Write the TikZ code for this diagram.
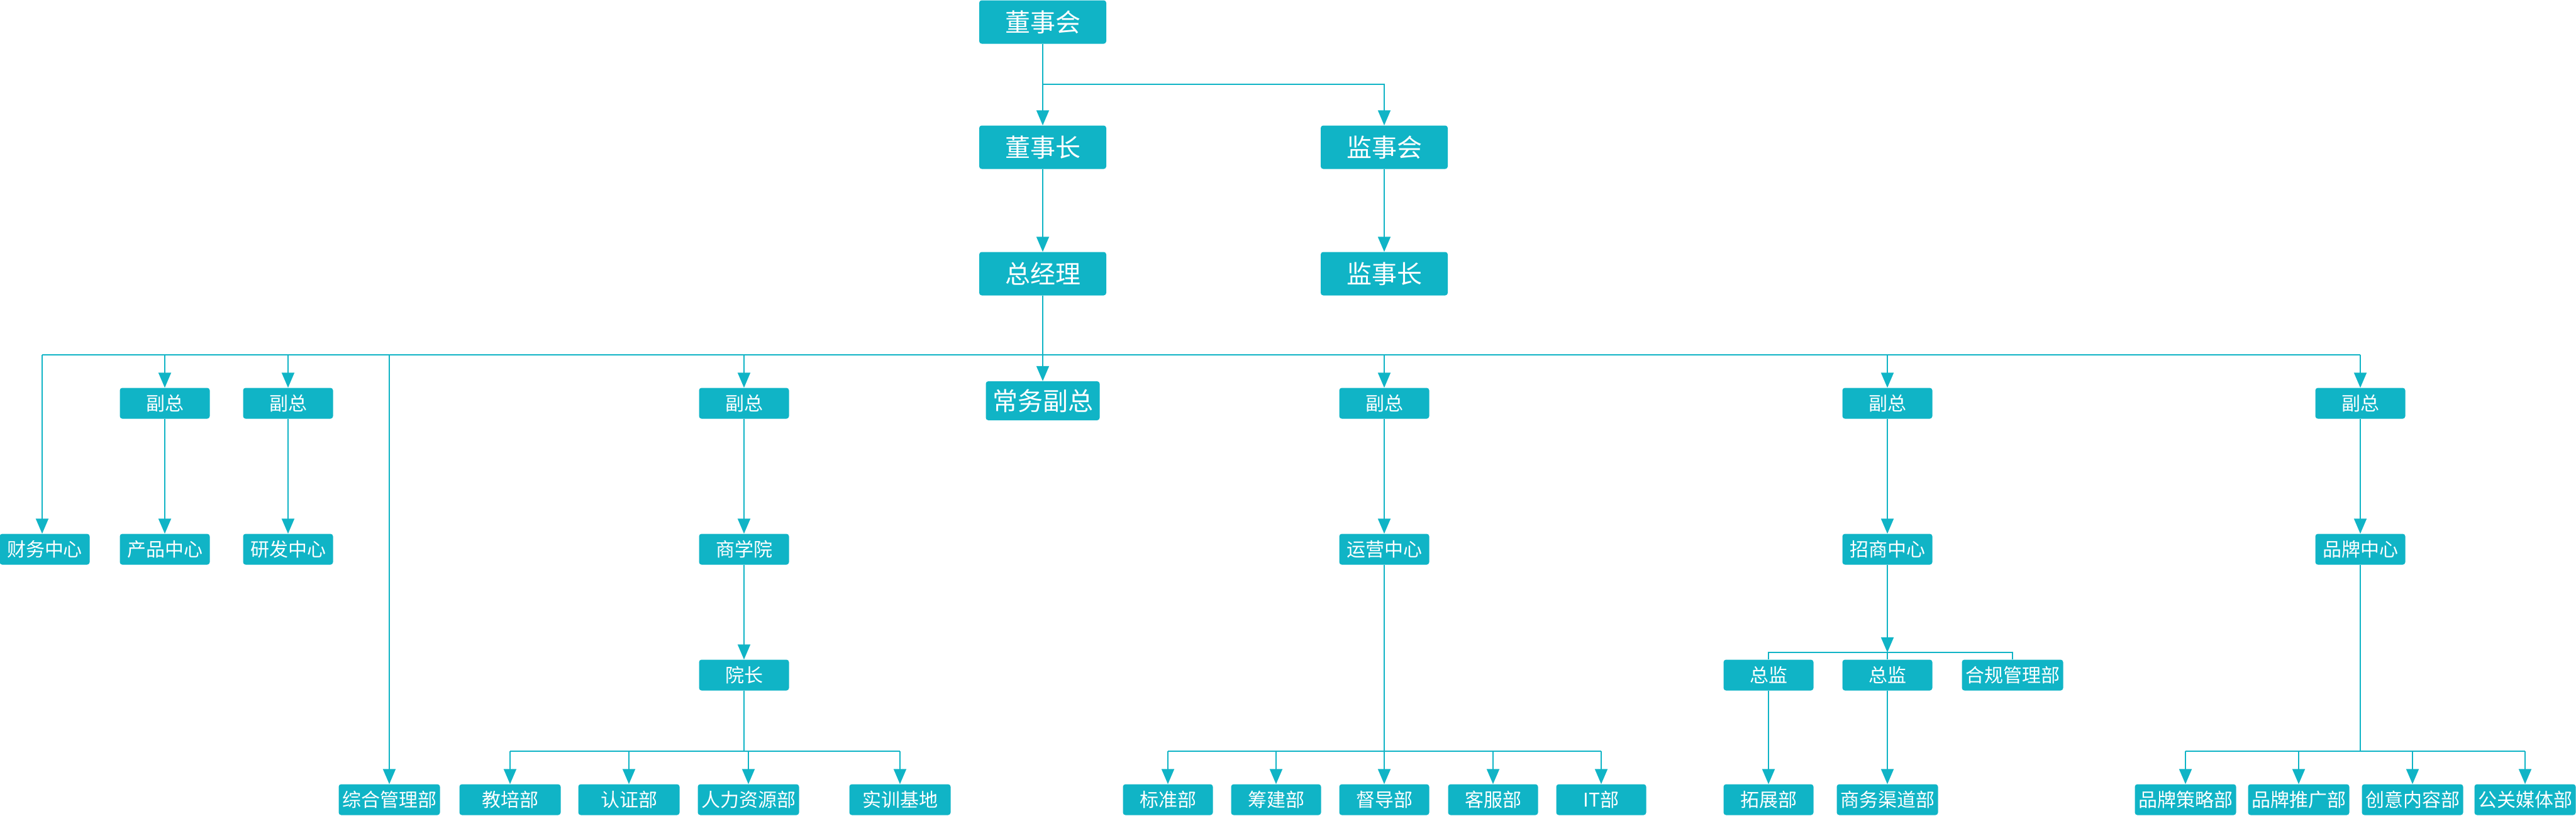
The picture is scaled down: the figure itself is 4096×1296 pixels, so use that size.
\documentclass[tikz,border=0pt]{standalone}
\usepackage{fontspec}
\setmainfont{Noto Sans CJK SC}
\usetikzlibrary{arrows.meta}
\definecolor{tl}{HTML}{10B4C6}
\tikzset{
 bx/.style={fill=tl,rounded corners=4pt,text=white,inner sep=0pt,font=\fontsize{30}{30}\selectfont,minimum height=49pt,minimum width=143pt},
 wide/.style={minimum width=161pt},
 big/.style={bx,minimum width=202pt,minimum height=69pt,font=\fontsize{40}{40}\selectfont},
 ln/.style={draw=tl,line width=2pt},
 ar/.style={ln,-{Triangle[length=24pt,width=20pt]}}
}
\begin{document}
\begin{tikzpicture}[x=1pt,y=-1pt]
\useasboundingbox (0,0) rectangle (4096,1296);
\node[big] (dsh) at (1658,35) {董事会};
\node[big] (dsz) at (1658,234) {董事长};
\node[big] (jsh) at (2201,234) {监事会};
\node[big] (zjl) at (1658,435) {总经理};
\node[big] (jsz) at (2201,435) {监事长};
\node[big,minimum width=181pt,minimum height=62pt] (cw) at (1658,637) {常务副总};
\coordinate (j1) at (1658,134);
\draw[ar] (dsh) -- (dsz);
\draw[ar] (j1) -| (jsh);
\draw[ar] (dsz) -- (zjl);
\draw[ar] (jsh) -- (jsz);
% row 2
\node[bx] (f1) at (262,641) {副总};
\node[bx] (f2) at (458,641) {副总};
\node[bx] (f3) at (1183,641) {副总};
\node[bx] (f4) at (2201,641) {副总};
\node[bx] (f5) at (3001,641) {副总};
\node[bx] (f6) at (3753,641) {副总};
% row 3
\node[bx] (cwzx) at (71,873) {财务中心};
\node[bx] (cpzx) at (262,873) {产品中心};
\node[bx] (yfzx) at (458,873) {研发中心};
\node[bx] (sxy) at (1183,873) {商学院};
\node[bx] (yyzx) at (2201,873) {运营中心};
\node[bx] (zszx) at (3001,873) {招商中心};
\node[bx] (ppzx) at (3753,873) {品牌中心};
% row 4
\node[bx] (yz) at (1183,1073) {院长};
\node[bx] (zj1) at (2812,1073) {总监};
\node[bx] (zj2) at (3001,1073) {总监};
\node[bx,wide] (hg) at (3200,1073) {合规管理部};
% row 5
\node[bx,wide] (zh) at (619,1271) {综合管理部};
\node[bx,wide] (jp) at (811,1271) {教培部};
\node[bx,wide] (rz) at (1000,1271) {认证部};
\node[bx,wide] (rl) at (1190,1271) {人力资源部};
\node[bx,wide] (sx) at (1431,1271) {实训基地};
\node[bx] (bz) at (1857,1271) {标准部};
\node[bx] (cj) at (2029,1271) {筹建部};
\node[bx] (dd) at (2201,1271) {督导部};
\node[bx] (kf) at (2374,1271) {客服部};
\node[bx] (it) at (2546,1271) {IT部};
\node[bx] (tz) at (2812,1271) {拓展部};
\node[bx,wide] (swqd) at (3001,1271) {商务渠道部};
\node[bx,wide] (ppcl) at (3475,1271) {品牌策略部};
\node[bx,wide] (pptg) at (3655,1271) {品牌推广部};
\node[bx,wide] (cynr) at (3836,1271) {创意内容部};
\node[bx,wide] (gmt) at (4015,1271) {公关媒体部};
% main bus
\coordinate (bl) at (67,564);
\coordinate (br) at (3753,564);
\draw[ln] (bl) -- (br);
\draw[ar] (zjl) -- (cw);
\draw[ar] (bl) -- (bl|-cwzx.north);
\foreach \n in {f1,f2,f3,f4,f5,f6,zh}{\draw[ar] (\n|-bl) -- (\n.north);}
\draw[ar] (f1) -- (cpzx);
\draw[ar] (f2) -- (yfzx);
\draw[ar] (f3) -- (sxy);
\draw[ar] (sxy) -- (yz);
\draw[ar] (f4) -- (yyzx);
\draw[ar] (f5) -- (zszx);
\draw[ar] (f6) -- (ppzx);
% 院长 bus
\coordinate (b2) at (1183,1194);
\draw[ln] (yz) -- (b2);
\draw[ln] (jp.north|-b2) -- (sx.north|-b2);
\foreach \n in {jp,rz,rl,sx}{\draw[ar] (\n|-b2) -- (\n.north);}
% 运营 bus
\coordinate (b3) at (2201,1194);
\draw[ln] (bz.north|-b3) -- (it.north|-b3);
\draw[ar] (yyzx) -- (dd);
\foreach \n in {bz,cj,kf,it}{\draw[ar] (\n|-b3) -- (\n.north);}
% 招商 bus
\coordinate (b4) at (3001,1037);
\draw[ar] (zszx) -- (b4);
\draw[ln] (zj1.north) |- (hg.north|-b4) -- (hg.north);
\draw[ln] (b4) -- (zj2.north);
\draw[ar] (zj1) -- (tz);
\draw[ar] (zj2) -- (swqd);
% 品牌 bus
\coordinate (b5) at (3753,1194);
\draw[ln] (ppzx) -- (b5);
\draw[ln] (ppcl.north|-b5) -- (gmt.north|-b5);
\foreach \n in {ppcl,pptg,cynr,gmt}{\draw[ar] (\n|-b5) -- (\n.north);}
\end{tikzpicture}
\end{document}
